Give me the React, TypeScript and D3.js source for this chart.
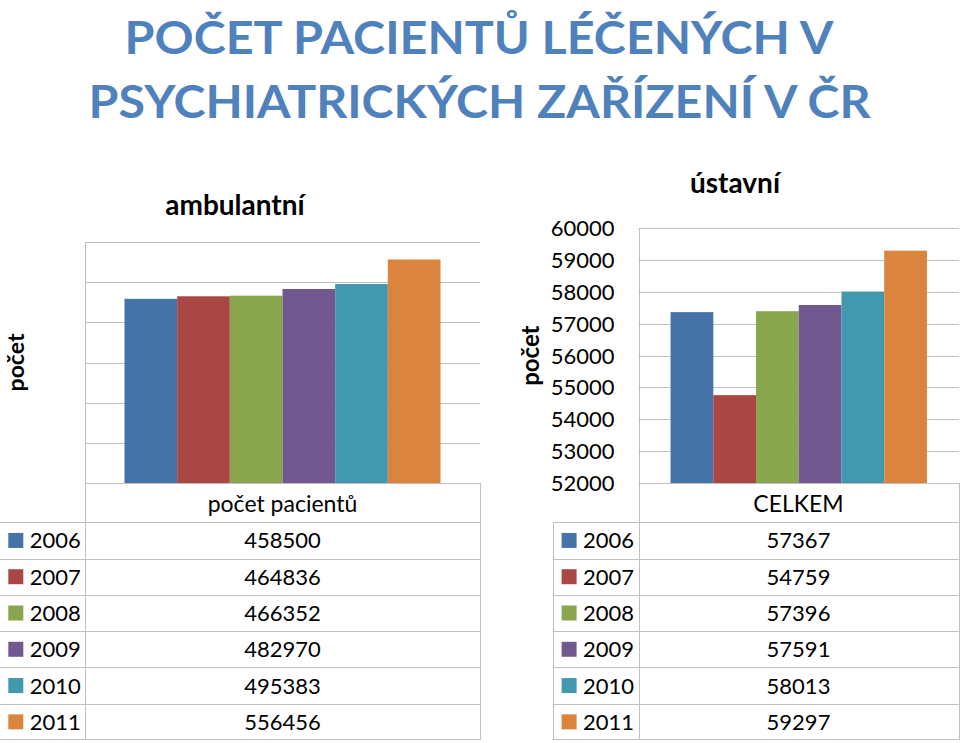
import React from "react";
import * as d3 from "d3";

const years = ["2006", "2007", "2008", "2009", "2010", "2011"];
const ambulantValues = [458500, 464836, 466352, 482970, 495383, 556456];
const ustavniValues = [57367, 54759, 57396, 57591, 58013, 59297];
const colors = ["#4572A7", "#AA4643", "#89A54E", "#71588F", "#4198AF", "#DB843D"];
const ambulantCategory = "počet pacientů";
const ustavniCategory = "CELKEM";
const ambulantTicks = [0, 100000, 200000, 300000, 400000, 500000, 600000];
const ustavniTicks = [52000, 53000, 54000, 55000, 56000, 57000, 58000, 59000, 60000];
const titleLines = ["POČET PACIENTŮ LÉČENÝCH V", "PSYCHIATRICKÝCH ZAŘÍZENÍ V ČR"];

const FONT = "Lato, 'Open Sans', sans-serif";
const GRID = "#BFBFBF";

type PanelProps = {
  title: string;
  titleX: number;
  titleY: number;
  category: string;
  values: number[];
  ticks: number[];
  showTickLabels: boolean;
  plotLeft: number;
  plotRight: number;
  plotTop: number;
  plotBottom: number;
  yLabelX: number;
  yLabelSize: number;
  tableLeft: number;
  tableRight: number;
  drawTableLeftBorder: boolean;
};

function Panel(p: PanelProps) {
  const y = d3
    .scaleLinear()
    .domain([p.ticks[0], p.ticks[p.ticks.length - 1]])
    .range([p.plotBottom, p.plotTop]);
  const x0 = d3
    .scaleBand<string>()
    .domain([p.category])
    .range([p.plotLeft, p.plotRight])
    .paddingInner(0)
    .paddingOuter(0.125);
  const x1 = d3.scaleBand<string>().domain(years).range([0, x0.bandwidth()]).padding(0);
  const tableBottom = 740;
  const rows = d3.scaleBand<string>().domain(years).range([522.3, tableBottom]);
  const headerMid = (p.plotBottom + 522.3) / 2;
  const valueMid = (p.plotLeft + p.tableRight) / 2;
  const plotMidY = (p.plotTop + p.plotBottom) / 2;
  const legendX = p.tableLeft + 8.3;

  return (
    <g>
      <text
        x={p.titleX}
        y={p.titleY}
        textAnchor="middle"
        fontFamily={FONT}
        fontWeight="bold"
        fontSize={28}
        fill="#000"
      >
        {p.title}
      </text>
      {p.ticks.map((t) => (
        <line
          key={"g" + t}
          x1={p.plotLeft}
          x2={p.plotRight}
          y1={Math.round(y(t)) + 0.5}
          y2={Math.round(y(t)) + 0.5}
          stroke={GRID}
          strokeWidth={1}
        />
      ))}
      <line
        x1={Math.round(p.plotLeft) + 0.5}
        x2={Math.round(p.plotLeft) + 0.5}
        y1={y(p.ticks[p.ticks.length - 1])}
        y2={tableBottom}
        stroke={GRID}
      />
      {p.showTickLabels &&
        p.ticks.map((t) => (
          <text
            key={"t" + t}
            x={p.plotLeft - 24}
            y={y(t) + 8}
            textAnchor="end"
            fontFamily={FONT}
            fontSize={22}
            fill="#000"
          >
            {String(t)}
          </text>
        ))}
      <text
        transform={`translate(${p.yLabelX},${plotMidY}) rotate(-90)`}
        textAnchor="middle"
        fontFamily={FONT}
        fontWeight="bold"
        fontSize={p.yLabelSize}
        fill="#000"
      >
        počet
      </text>
      {p.values.map((v, i) => (
        <rect
          key={"b" + i}
          x={(x0(p.category) as number) + (x1(years[i]) as number)}
          width={x1.bandwidth()}
          y={y(v)}
          height={y(p.ticks[0]) - y(v)}
          fill={colors[i]}
        />
      ))}
      <line x1={p.plotLeft} x2={p.tableRight} y1={p.plotBottom + 0.5} y2={p.plotBottom + 0.5} stroke={GRID} />
      <line
        x1={Math.round(p.tableRight) + 0.5}
        x2={Math.round(p.tableRight) + 0.5}
        y1={p.plotBottom}
        y2={tableBottom}
        stroke={GRID}
      />
      {p.drawTableLeftBorder && (
        <line
          x1={Math.round(p.tableLeft) + 0.5}
          x2={Math.round(p.tableLeft) + 0.5}
          y1={522.3}
          y2={tableBottom}
          stroke={GRID}
        />
      )}
      {years.map((yr) => (
        <line
          key={"r" + yr}
          x1={p.tableLeft}
          x2={p.tableRight}
          y1={Math.round(rows(yr) as number) + 0.5}
          y2={Math.round(rows(yr) as number) + 0.5}
          stroke={GRID}
        />
      ))}
      <line x1={p.tableLeft} x2={p.tableRight} y1={tableBottom - 0.5} y2={tableBottom - 0.5} stroke={GRID} />
      <text x={valueMid} y={headerMid + 9} textAnchor="middle" fontFamily={FONT} fontSize={23} fill="#000">
        {p.category}
      </text>
      {years.map((yr, i) => {
        const cy = (rows(yr) as number) + rows.bandwidth() / 2;
        return (
          <g key={"row" + yr}>
            <rect x={legendX} y={cy - 7.5} width={15} height={15} fill={colors[i]} />
            <text x={legendX + 21.5} y={cy + 8} fontFamily={FONT} fontSize={22} fill="#000">
              {yr}
            </text>
            <text x={valueMid} y={cy + 8} textAnchor="middle" fontFamily={FONT} fontSize={22} fill="#000">
              {String(p.values[i])}
            </text>
          </g>
        );
      })}
    </g>
  );
}

export default function App() {
  return (
    <svg
      width={960}
      height={743}
      style={{ position: "absolute", left: 0, top: 0, background: "#fff" }}
    >
      <rect x={0} y={0} width={960} height={743} fill="#fff" />
      <text
        x={479}
        y={53.5}
        textAnchor="middle"
        fontFamily={FONT}
        fontWeight="bold"
        fontSize={45}
        fill="#4F81BD"
        textLength={709}
        lengthAdjust="spacingAndGlyphs"
      >
        {titleLines[0]}
      </text>
      <text
        x={479.5}
        y={117.5}
        textAnchor="middle"
        fontFamily={FONT}
        fontWeight="bold"
        fontSize={45}
        fill="#4F81BD"
        textLength={782}
        lengthAdjust="spacingAndGlyphs"
      >
        {titleLines[1]}
      </text>
      <Panel
        title="ambulantní"
        titleX={235}
        titleY={215}
        category={ambulantCategory}
        values={ambulantValues}
        ticks={ambulantTicks}
        showTickLabels={false}
        plotLeft={85}
        plotRight={480}
        plotTop={242}
        plotBottom={483}
        yLabelX={24}
        yLabelSize={23}
        tableLeft={0}
        tableRight={480}
        drawTableLeftBorder={false}
      />
      <Panel
        title="ústavní"
        titleX={735}
        titleY={193}
        category={ustavniCategory}
        values={ustavniValues}
        ticks={ustavniTicks}
        showTickLabels={true}
        plotLeft={638.5}
        plotRight={959}
        plotTop={228.3}
        plotBottom={483}
        yLabelX={539}
        yLabelSize={24}
        tableLeft={553.3}
        tableRight={958.5}
        drawTableLeftBorder={true}
      />
    </svg>
  );
}
